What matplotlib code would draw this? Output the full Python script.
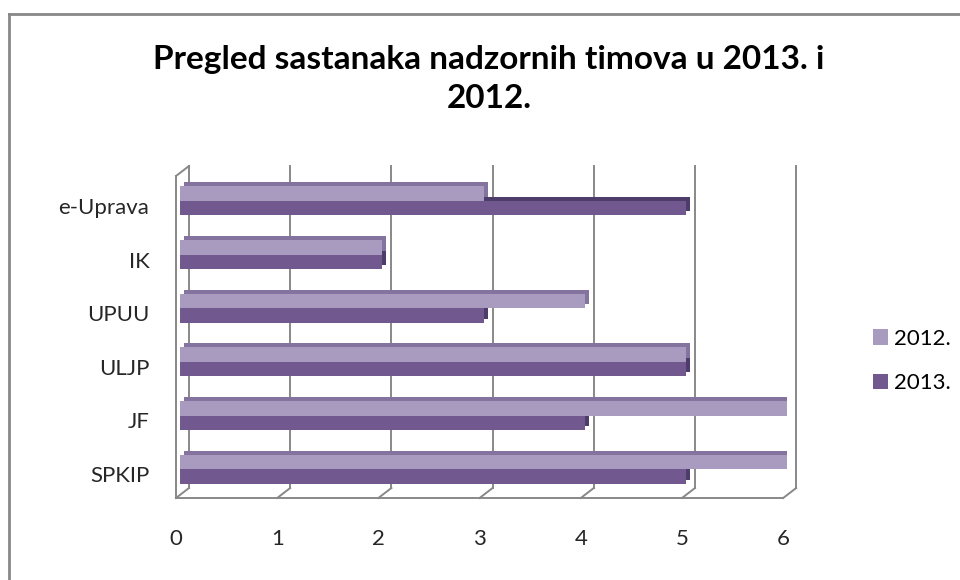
import matplotlib.pyplot as plt
import matplotlib.transforms as mtransforms
from matplotlib.lines import Line2D

# data
categories = ["e-Uprava", "IK", "UPUU", "ULJP", "JF", "SPKIP"]
vals_2012 = [3, 2, 4, 5, 6, 6]
vals_2013 = [5, 2, 3, 5, 4, 5]
series_names = ["2012.", "2013."]
x_ticks = [0, 1, 2, 3, 4, 5, 6]
title = "Pregled sastanaka nadzornih timova u 2013. i\n2012."

plt.rcParams["font.family"] = ["Lato", "DejaVu Sans"]

W, H = 960, 580
fig = plt.figure(figsize=(W / 100, H / 100), dpi=100)

# plane where the bar fronts sit (pixels)
left_px, right_px = 180, 787.2
top_px, bot_px = 174, 496
ax = fig.add_axes([left_px / W, 1 - bot_px / H,
                   (right_px - left_px) / W, (bot_px - top_px) / H])
ax.set_xlim(0, 6)
ax.set_ylim(5.5, -0.5)
for s in ax.spines.values():
    s.set_visible(False)


def shift(dx, dy):
    # offset in pixels, dy positive = down
    return ax.transData + mtransforms.ScaledTranslation(dx / 100, -dy / 100, fig.dpi_scale_trans)


grid_col = "#888888"
back = (9, -8)
front = (-4, 2)

# back wall grid lines
for x in x_ticks:
    ax.plot([x, x], [-0.5, 5.5], transform=shift(*back), color=grid_col, lw=1.4, clip_on=False)

# floor front edge + diagonals, left wall
ax.plot([0, 6], [5.5, 5.5], transform=shift(*front), color=grid_col, lw=1.4, clip_on=False)
ax.plot([0, 0], [-0.5, 5.5], transform=shift(*front), color=grid_col, lw=1.4, clip_on=False)
for x, y in [(xx, 5.5) for xx in x_ticks] + [(0, -0.5)]:
    bx, by = shift(*back).transform((x, y))
    fx, fy = shift(*front).transform((x, y))
    fig.add_artist(Line2D([bx, fx], [by, fy], transform=mtransforms.IdentityTransform(),
                          color=grid_col, lw=1.4))

# bars
h = 0.27
ypos = list(range(len(categories)))
y12 = [y - h / 2 for y in ypos]
y13 = [y + h / 2 for y in ypos]
ax.barh(y13, vals_2013, height=h, color="#4e3c6b", transform=shift(4, -4), zorder=3)
b13 = ax.barh(y13, vals_2013, height=h, color="#71598f", zorder=4)
ax.barh(y12, vals_2012, height=h, color="#84739f", transform=shift(4, -4), zorder=5)
b12 = ax.barh(y12, vals_2012, height=h, color="#a99bbf", zorder=6)

# ticks
ax.set_yticks(ypos)
ax.set_yticklabels(categories)
ax.set_xticks(x_ticks)
ax.set_xticklabels([str(t) for t in x_ticks])
ax.tick_params(axis="y", length=0, pad=22, labelsize=16, labelcolor="#262626")
ax.tick_params(axis="x", length=0, pad=24, labelsize=16, labelcolor="#262626")
for lbl in ax.get_yticklabels():
    lbl.set_transform(lbl.get_transform() + mtransforms.ScaledTranslation(0, -0.05, fig.dpi_scale_trans))
for lbl in ax.get_xticklabels():
    lbl.set_transform(lbl.get_transform() + mtransforms.ScaledTranslation(-0.04, 0, fig.dpi_scale_trans))

ax.legend([b12, b13], series_names, loc="center left", bbox_to_anchor=(853 / W, 1 - 361 / H),
          bbox_transform=fig.transFigure, frameon=False, fontsize=16,
          handlelength=0.68, handleheight=0.68, handletextpad=0.25, labelspacing=1.1)

fig.text(489 / W, 1 - 79 / H, title, ha="center", va="center", fontsize=24,
         fontweight="bold", linespacing=1.45, color="#000000")

# chart border (only top and left visible)
fig.add_artist(Line2D([9 / W, 9 / W], [0, 1 - 14 / H], transform=fig.transFigure, color="#888888", lw=2))
fig.add_artist(Line2D([9 / W, 1], [1 - 14 / H, 1 - 14 / H], transform=fig.transFigure, color="#888888", lw=2))

fig.savefig("out.png", dpi=100)
